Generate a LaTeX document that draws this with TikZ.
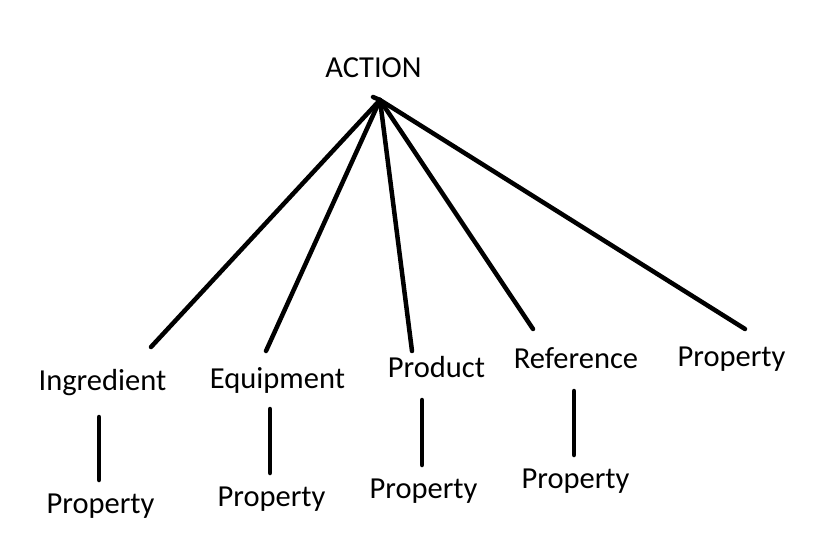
\documentclass[tikz,border=0pt]{standalone}
\usepackage{fontspec}
\setmainfont{Carlito}
\begin{document}
\begin{tikzpicture}[x=1pt,y=-1pt,
  lbl/.style={anchor=base,inner sep=0pt,font=\fontsize{30.5}{36}\selectfont},
  conn/.style={line width=4.5pt,line cap=round}]
\useasboundingbox (0,0) rectangle (820,554);
\fill[white] (0,0) rectangle (820,554);
% labels
\node[lbl] (action) at (373.5,77.5) {ACTION};
\node[lbl] (ing) at (102.5,390) {Ingredient};
\node[lbl] (equ) at (277.5,388) {Equipment};
\node[lbl] (pro) at (436.5,377) {Product};
\node[lbl] (ref) at (576,368) {Reference};
\node[lbl] (prop5) at (731.5,366) {Property};
\node[lbl] (prop1) at (100.5,513) {Property};
\node[lbl] (prop2) at (271.5,506) {Property};
\node[lbl] (prop3) at (423.5,498) {Property};
\node[lbl] (prop4) at (575.5,488) {Property};
% connector ends
\coordinate (apex) at (380,100);
\coordinate (ingT) at (151,347);
\coordinate (equT) at (266,351);
\coordinate (proT) at (412,351);
\coordinate (refT) at (533,329);
\coordinate (prop5T) at (745,329);
\coordinate (ingB1) at (99,417);   \coordinate (ingB2) at (99,480);
\coordinate (equB1) at (270,409);  \coordinate (equB2) at (270,473);
\coordinate (proB1) at (422,400);  \coordinate (proB2) at (422,465);
\coordinate (refB1) at (574,391);  \coordinate (refB2) at (574,455);
% connectors
\draw[conn] (373,97) -- (apex);
\draw[conn] (apex) -- (ingT);
\draw[conn] (apex) -- (equT);
\draw[conn] (apex) -- (proT);
\draw[conn] (apex) -- (refT);
\draw[conn] (apex) -- (prop5T);
\draw[conn] (ingB1) -- (ingB2);
\draw[conn] (equB1) -- (equB2);
\draw[conn] (proB1) -- (proB2);
\draw[conn] (refB1) -- (refB2);
\end{tikzpicture}
\end{document}
